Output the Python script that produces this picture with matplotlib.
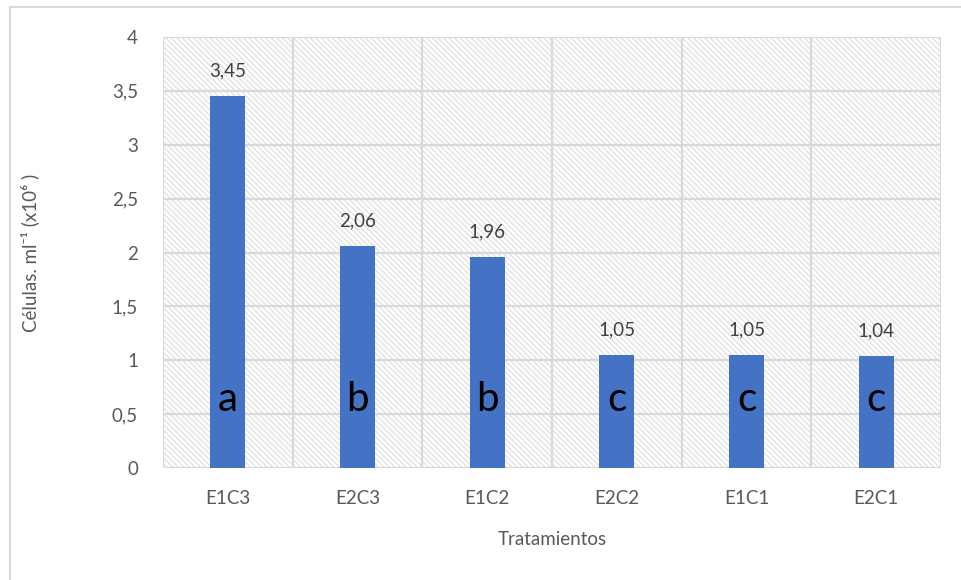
import matplotlib
matplotlib.use("Agg")
import matplotlib.pyplot as plt
from matplotlib.patches import Rectangle
from matplotlib.lines import Line2D

# Data
tratamientos = ["E1C3", "E2C3", "E1C2", "E2C2", "E1C1", "E2C1"]
celulas = [3.45, 2.06, 1.96, 1.05, 1.05, 1.04]
letras = ["a", "b", "b", "c", "c", "c"]
etiquetas = ["3,45", "2,06", "1,96", "1,05", "1,05", "1,04"]
yticks = [0, 0.5, 1, 1.5, 2, 2.5, 3, 3.5, 4]
ytick_labels = ["0", "0,5", "1", "1,5", "2", "2,5", "3", "3,5", "4"]

plt.rcParams["font.family"] = ["Lato", "DejaVu Sans"]
plt.rcParams["hatch.linewidth"] = 0.9

W, H = 961, 580
fig = plt.figure(figsize=(W / 100, H / 100), dpi=100)
fig.patch.set_facecolor("white")

# Outer chart frame (left and top edges)
grid_col = "#d9d9d9"
fig.add_artist(Line2D([10 / W, 10 / W], [0, 1 - 7 / H], color=grid_col, lw=1.5, transform=fig.transFigure))
fig.add_artist(Line2D([10 / W, 1], [1 - 7 / H, 1 - 7 / H], color=grid_col, lw=1.5, transform=fig.transFigure))

left, right, top, bottom = 163, 941, 37, 468
ax = fig.add_axes([left / W, 1 - bottom / H, (right - left) / W, (bottom - top) / H])

# Hatched plot area
bg = Rectangle((0, 0), 1, 1, transform=ax.transAxes, facecolor="white",
               edgecolor="#e0e0e0", hatch="\\\\\\\\\\\\", linewidth=0, zorder=0)
ax.add_patch(bg)
ax.set_facecolor("white")

x = list(range(len(tratamientos)))
ax.set_xlim(-0.5, len(tratamientos) - 0.5)
ax.set_ylim(0, 4)

# Grid lines
for yv in yticks:
    ax.axhline(yv, color=grid_col, lw=1.6, zorder=1)
for xv in [i - 0.5 for i in range(len(tratamientos) + 1)]:
    ax.axvline(xv, color=grid_col, lw=1.6, zorder=1)

ax.bar(x, celulas, width=0.27, color="#4472c4", zorder=3)

for xi, v, lab, let in zip(x, celulas, etiquetas, letras):
    ax.annotate(lab, (xi, v), xytext=(0, 18), textcoords="offset points",
                ha="center", va="center", fontsize=13.5, color="#404040", zorder=4)
    ax.text(xi, 0.64, let, ha="center", va="center", fontsize=29, color="black", zorder=4)

for s in ax.spines.values():
    s.set_visible(False)

ax.set_yticks(yticks)
ax.set_yticklabels(ytick_labels)
ax.set_xticks(x)
ax.set_xticklabels(tratamientos)
ax.tick_params(axis="both", length=0, labelsize=13.5, labelcolor="#595959")
ax.tick_params(axis="y", pad=18)
ax.tick_params(axis="x", pad=16)

ax.set_xlabel("Tratamientos", fontsize=13.5, color="#595959", labelpad=17)
ax.set_ylabel("Células. ml⁻¹ (x10⁶ )", fontsize=13.5, color="#595959", labelpad=52)

fig.savefig("out.png", dpi=100, facecolor="white")
